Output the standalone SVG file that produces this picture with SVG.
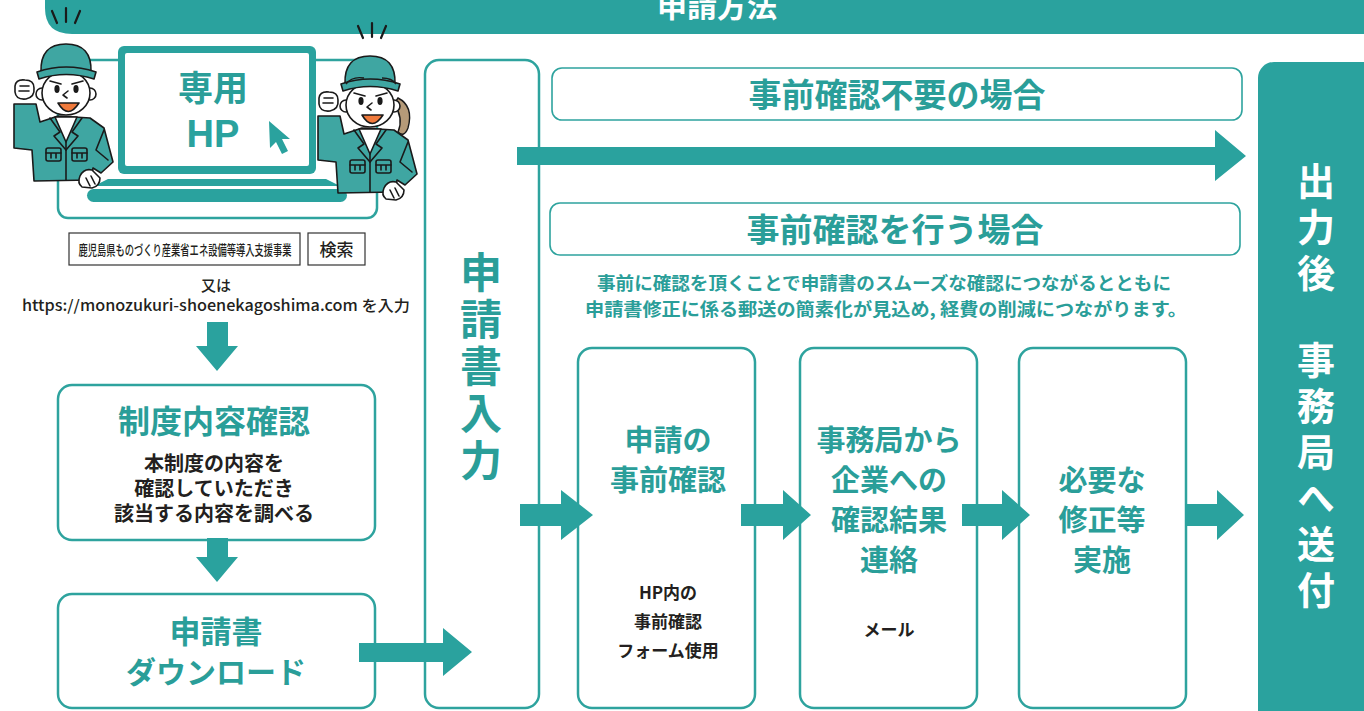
<svg xmlns="http://www.w3.org/2000/svg" width="1364" height="711" viewBox="0 0 1364 711">
  <style>
    .jp { font-family: 'Noto Sans CJK JP', 'Noto Sans', sans-serif; }
    .box { fill: #ffffff; stroke: #2ea39e; stroke-width: 2.5; }
    .thin { fill: #ffffff; stroke: #2ea39e; stroke-width: 1.6; }
    .head { font-family: 'Noto Sans CJK JP', sans-serif; font-weight: 700; fill: #2a9e99; text-anchor: middle; }
    .body { font-family: 'Noto Sans CJK JP', sans-serif; font-weight: 700; fill: #231f20; text-anchor: middle; }
    .white { font-family: 'Noto Sans CJK JP', sans-serif; font-weight: 700; fill: #ffffff; text-anchor: middle; }
    .vert { writing-mode: vertical-rl; text-anchor: start; }
    .arrow { fill: #2aa29e; }
    .ink { stroke: #1a1a1a; stroke-width: 1.6; stroke-linejoin: round; stroke-linecap: round; }
    .jacket { fill: #3fa6a2; }
  </style>
  <defs>
    <!-- worker in uniform, raised fist -->
    <g id="worker" class="ink">
      <!-- raised sleeve and jacket -->
      <path class="jacket" d="M14,104 L36,104 L40,122 L58,116 L90,118 L104,128 L113,162 L101,173 L93,168 L91,180 L34,181 L32,150 L14,148 Z"/>
      <!-- shirt collar and lapels -->
      <path d="M55,117 L66,142 L77,117 Z" fill="#ffffff"/>
      <path d="M50,118 L60,132 L54,136 L66,150" fill="none"/>
      <path d="M82,118 L72,132 L78,136 L66,150" fill="none"/>
      <path d="M66,142 L66,180" fill="none"/>
      <!-- pockets -->
      <rect x="46" y="148" width="15" height="13" rx="2" fill="#3fa6a2"/>
      <path d="M46,153 L61,153 M51,153 L51,158 M56,153 L56,158" fill="none"/>
      <rect x="72" y="148" width="15" height="13" rx="2" fill="#3fa6a2"/>
      <path d="M72,153 L87,153 M77,153 L77,158 M82,153 L82,158" fill="none"/>
      <!-- sleeve fold -->
      <path d="M104,130 L96,150 L108,160" fill="none"/>
      <!-- fist -->
      <path d="M15,86 Q16,79 25,80 Q34,80 34,88 Q35,97 26,99 Q16,100 15,92 Z" fill="#ffffff"/>
      <path d="M20,86 L29,86 M19,91 L29,91" fill="none"/>
      <!-- resting hand -->
      <path d="M80,176 Q84,168 92,170 L100,178 Q100,186 92,188 L82,187 Q77,183 80,176 Z" fill="#ffffff"/>
      <path d="M86,178 L90,186 M91,176 L95,184" fill="none"/>
      <!-- ears -->
      <circle cx="42" cy="94" r="6" fill="#ffffff"/>
      <circle cx="90" cy="94" r="6" fill="#ffffff"/>
      <!-- face -->
      <ellipse cx="66" cy="93" rx="24" ry="22" fill="#ffffff"/>
      <!-- cap -->
      <path class="jacket" d="M41,72 Q40,44 66,44 Q92,44 91,72 Z"/>
      <path class="jacket" d="M37,72 Q66,62 96,72 L94,79 Q66,70 39,79 Z"/>
      <!-- eyes and brows -->
      <ellipse cx="57" cy="89" rx="2.6" ry="4" fill="#1a1a1a" stroke="none"/>
      <ellipse cx="76" cy="89" rx="2.6" ry="4" fill="#1a1a1a" stroke="none"/>
      <path d="M50,81 L61,84 M83,81 L72,84" fill="none"/>
      <!-- nose and mouth -->
      <path d="M68,91 L63,95 L67,98" fill="none"/>
      <path d="M58,103 Q68,120 79,103 Z" fill="#f07a3c"/>
    </g>
  </defs>

  <!-- title banner -->
  <g id="title">
    <path d="M45,0 L1364,0 L1364,34 L72,34 Q45,34 45,8 Z" fill="#2aa29e"/>
    <text class="white" x="717" y="17" font-size="30">申請方法</text>
  </g>

  <!-- dedicated website panel -->
  <g id="hp">
    <rect x="58" y="60" width="319" height="158" rx="10" class="box" fill="none"/>
    <rect x="118" y="46" width="198" height="128" rx="6" fill="#2aa29e"/>
    <rect x="125" y="53" width="184" height="113" rx="2" fill="#ffffff"/>
    <polygon points="108,179 326,179 340,186 94,186" fill="#2aa29e"/>
    <rect x="87" y="189" width="260" height="13" rx="6.5" fill="#2aa29e"/>
    <text class="head" x="213" y="101" font-size="35" fill="#2aa29e">専用</text>
    <text x="213" y="147" font-size="38" font-weight="700" text-anchor="middle" font-family="'Liberation Sans', Arial, sans-serif" fill="#2aa29e">HP</text>
    <polygon points="269,121 270,148 276,142 282,154 288,151 282,139 290,139" fill="#2aa29e"/>
  </g>

  <!-- two workers beside the laptop -->
  <g id="workers">
    <use href="#worker" x="0" y="0"/>
    <path d="M398,98 Q414,106 408,128 Q404,138 398,132 Q404,118 394,104 Z" fill="#b59a78" stroke="#1a1a1a" stroke-width="1.4"/>
    <use href="#worker" x="304" y="12"/>
    <path d="M346,84 Q352,76 364,78 M396,84 Q392,78 382,78" fill="none" stroke="#1a1a1a" stroke-width="1.4"/>
    <g stroke="#1a1a1a" stroke-width="2.2" stroke-linecap="round">
      <path d="M52,11 L57,23 M66,8 L66,22 M80,11 L75,23"/>
      <path d="M358,26 L363,38 M372,23 L372,37 M386,26 L381,38"/>
    </g>
  </g>

  <!-- search hint -->
  <g id="search">
    <rect x="69" y="233" width="231" height="32" fill="#ffffff" stroke="#333333" stroke-width="1.2"/>
    <text class="jp" transform="translate(185,255) scale(0.662,1)" x="0" y="0" font-size="14" font-weight="500" fill="#231f20" text-anchor="middle">鹿児島県ものづくり産業省エネ設備等導入支援事業</text>
    <rect x="308" y="233" width="57" height="32" fill="#ffffff" stroke="#333333" stroke-width="1.2"/>
    <text class="jp" x="336.5" y="256" font-size="17" font-weight="500" fill="#231f20" text-anchor="middle">検索</text>
    <text class="jp" x="216" y="291" font-size="15" font-weight="500" fill="#231f20" text-anchor="middle">又は</text>
    <text class="jp" x="216" y="311" font-size="15" font-weight="500" fill="#231f20" text-anchor="middle" textLength="388" lengthAdjust="spacingAndGlyphs">https://monozukuri-shoenekagoshima.com を入力</text>
  </g>

  <!-- step: check the programme -->
  <g id="seido">
    <rect x="58" y="385" width="317" height="155" rx="14" class="box"/>
    <text class="head" x="214" y="433" font-size="32">制度内容確認</text>
    <text class="body" x="214" y="471" font-size="20">本制度の内容を</text>
    <text class="body" x="214" y="496" font-size="20">確認していただき</text>
    <text class="body" x="214" y="521" font-size="20">該当する内容を調べる</text>
  </g>

  <!-- step: download the form -->
  <g id="download">
    <rect x="58" y="594" width="317" height="114" rx="14" class="box"/>
    <text class="head" x="216" y="643" font-size="31">申請書</text>
    <text class="head" x="216" y="683" font-size="30">ダウンロード</text>
  </g>

  <!-- step: fill in the form -->
  <g id="nyuryoku">
    <rect x="425" y="60" width="114" height="648" rx="14" class="box"/>
    <text class="head vert" x="481" y="251" font-size="42" letter-spacing="5">申請書入力</text>
  </g>

  <!-- route without pre-check -->
  <g id="fuyou">
    <rect x="552" y="68" width="690" height="52" rx="10" class="thin"/>
    <text class="head" x="897" y="107" font-size="33">事前確認不要の場合</text>
  </g>

  <!-- route with pre-check -->
  <g id="okonau">
    <rect x="550" y="203" width="690" height="52" rx="10" class="thin"/>
    <text class="head" x="895" y="242" font-size="33">事前確認を行う場合</text>
    <text class="head" x="884" y="290" font-size="18" textLength="574" lengthAdjust="spacingAndGlyphs">事前に確認を頂くことで申請書のスムーズな確認につながるとともに</text>
    <text class="head" x="886" y="316" font-size="18" textLength="602" lengthAdjust="spacingAndGlyphs">申請書修正に係る郵送の簡素化が見込め, 経費の削減につながります。</text>
  </g>

  <g id="jizen">
    <rect x="578" y="348" width="177" height="360" rx="14" class="box"/>
    <text class="head" x="668" y="451" font-size="29">申請の</text>
    <text class="head" x="668" y="491" font-size="29">事前確認</text>
    <text class="body" x="668" y="599" font-size="17">HP内の</text>
    <text class="body" x="668" y="628" font-size="17">事前確認</text>
    <text class="body" x="668" y="657" font-size="17">フォーム使用</text>
  </g>

  <g id="renraku">
    <rect x="800" y="348" width="177" height="360" rx="14" class="box"/>
    <text class="head" x="889" y="451" font-size="29">事務局から</text>
    <text class="head" x="889" y="491" font-size="29">企業への</text>
    <text class="head" x="889" y="531" font-size="29">確認結果</text>
    <text class="head" x="889" y="571" font-size="29">連絡</text>
    <text class="body" x="889" y="636" font-size="17">メール</text>
  </g>

  <g id="shusei">
    <rect x="1019" y="348" width="167" height="360" rx="14" class="box"/>
    <text class="head" x="1102" y="491" font-size="29">必要な</text>
    <text class="head" x="1102" y="531" font-size="29">修正等</text>
    <text class="head" x="1102" y="571" font-size="29">実施</text>
  </g>

  <!-- final step: send to the office -->
  <g id="soufu">
    <rect x="1258" y="62" width="130" height="670" rx="16" fill="#2aa29e"/>
    <text class="white vert" x="1316" y="162" font-size="38" letter-spacing="8">出力後</text>
    <text class="white vert" x="1316" y="341" font-size="38" letter-spacing="8">事務局へ送付</text>
  </g>

  <!-- connectors -->
  <g id="connectors" class="arrow">
    <polygon points="207,322 228,322 228,346 238,346 217,371 196,346 207,346"/>
    <polygon points="207,538 228,538 228,557 238,557 217,582 196,557 207,557"/>
    <polygon points="359,643 443,643 443,628 472,652 443,676 443,662 359,662"/>
    <polygon points="517,147 1215,147 1215,130 1246,156 1215,181 1215,165 517,165"/>
    <polygon points="520,504 561,504 561,490 593,515 561,540 561,526 520,526"/>
    <polygon points="741,504 783,504 783,490 811,515 783,540 783,526 741,526"/>
    <polygon points="962,504 1002,504 1002,490 1030,515 1002,540 1002,526 962,526"/>
    <polygon points="1185,504 1217,504 1217,490 1244,515 1217,540 1217,526 1185,526"/>
  </g>
</svg>
